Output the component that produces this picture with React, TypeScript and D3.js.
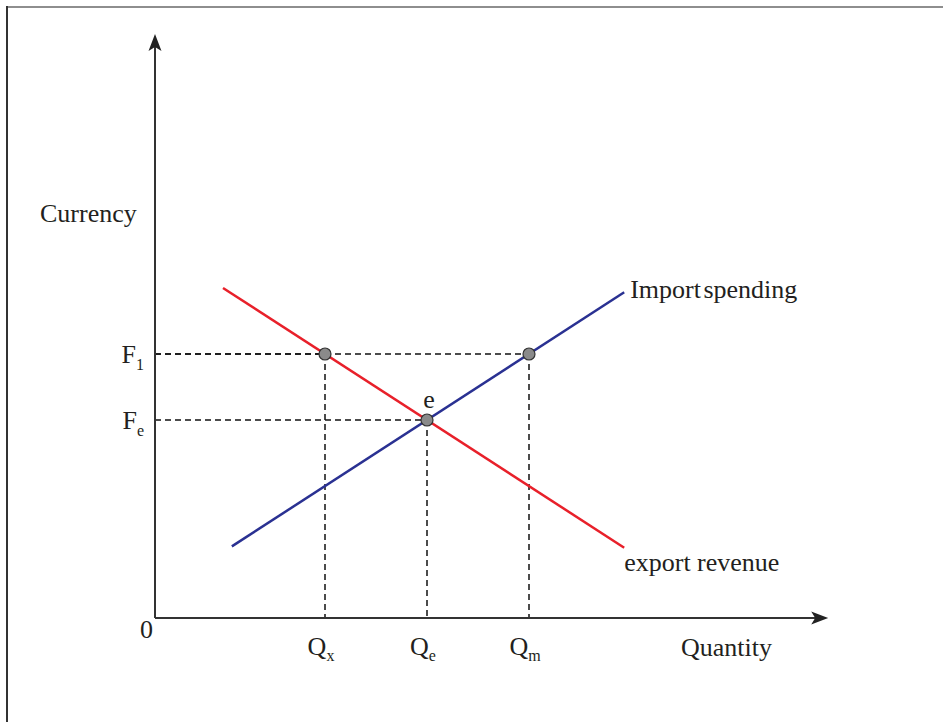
import * as d3 from "d3";

// axis extents (data units)
const xMax = 19.8;
const yMax = 17.7;

// curves: [quantity, currency]
const exportRevenue: [number, number][] = [
  [2, 10],
  [13.8, 2.13],
];
const importSpending: [number, number][] = [
  [2.26, 2.17],
  [13.8, 9.87],
];

// marked points
const pointNames = ["x", "e", "m"];
const pointQ = [5, 8, 11];
const pointF = [8, 6, 8];

// currency levels on the y axis
const fLevels = [8, 6];
const fSubs = ["1", "e"];

const W = 943;
const H = 722;
const FONT = "'Liberation Serif', 'Times New Roman', serif";

export default function App() {
  const x = d3.scaleLinear().domain([0, 1]).range([155, 189]);
  const y = d3.scaleLinear().domain([0, 1]).range([618, 585]);
  const line = d3
    .line<[number, number]>()
    .x((d) => x(d[0]))
    .y((d) => y(d[1]));

  const x0 = x(0);
  const y0 = y(0);
  const xTip = x(xMax);
  const yTip = y(yMax);

  const redEnd = exportRevenue[exportRevenue.length - 1];
  const blueEnd = importSpending[importSpending.length - 1];
  const eIdx = 1;

  return (
    <svg
      width={W}
      height={H}
      style={{ position: "absolute", left: 0, top: 0, background: "#fff" }}
      fontFamily={FONT}
    >
      {/* frame */}
      <line x1={6} y1={7} x2={W} y2={7} stroke="#8e8e8e" strokeWidth={2.2} />
      <line x1={7} y1={6} x2={7} y2={H} stroke="#333" strokeWidth={2} />

      {/* dashed guides */}
      {pointQ.map((q, i) => (
        <g key={"g" + i}>
          <line
            x1={x0}
            x2={x(q)}
            y1={y(pointF[i])}
            y2={y(pointF[i])}
            stroke="#111"
            strokeWidth={1.5}
            strokeDasharray="6 4"
          />
          <line
            x1={x(q)}
            x2={x(q)}
            y1={y(pointF[i])}
            y2={y0}
            stroke="#111"
            strokeWidth={1.5}
            strokeDasharray="6 4"
          />
        </g>
      ))}

      {/* axes */}
      <line x1={x0} y1={y0} x2={xTip - 12} y2={y0} stroke="#333" strokeWidth={2} />
      <line x1={x0} y1={y0} x2={x0} y2={yTip + 12} stroke="#333" strokeWidth={2} />
      <path
        d={`M${xTip},${y0} L${xTip - 17},${y0 - 6.5} L${xTip - 13},${y0} L${xTip - 17},${y0 + 6.5} Z`}
        fill="#222"
      />
      <path
        d={`M${x0},${yTip} L${x0 - 6.5},${yTip + 17} L${x0},${yTip + 13} L${x0 + 6.5},${yTip + 17} Z`}
        fill="#222"
      />

      {/* curves */}
      <path d={line(exportRevenue) ?? ""} fill="none" stroke="#e8202a" strokeWidth={2.5} />
      <path d={line(importSpending) ?? ""} fill="none" stroke="#2a3192" strokeWidth={2.5} />

      {/* points */}
      {pointQ.map((q, i) => (
        <circle
          key={"p" + i}
          cx={x(q)}
          cy={y(pointF[i])}
          r={6}
          fill="#8a8a8a"
          stroke="#333"
          strokeWidth={1.2}
        />
      ))}

      {/* texts */}
      <g fontSize={26} fill="#231f20">
        <text x={40} y={222}>Currency</text>
        <text x={x0 - 2} y={y0 + 20} textAnchor="end">0</text>
        <text x={681} y={656}>Quantity</text>
        <text x={x(blueEnd[0]) + 6} y={y(blueEnd[1]) + 6} wordSpacing={-4}>
          Import spending
        </text>
        <text x={x(redEnd[0])} y={y(redEnd[1]) + 23}>export revenue</text>
        <text x={x(pointQ[eIdx]) + 2} y={y(pointF[eIdx]) - 12} textAnchor="middle">e</text>
        {fLevels.map((f, i) => (
          <text key={"f" + i} x={x0 - 11} y={y(f) + 9} textAnchor="end">
            F
            <tspan fontSize={16} dy={7}>{fSubs[i]}</tspan>
          </text>
        ))}
        {pointQ.map((q, i) => (
          <text key={"q" + i} x={x(q) - 4} y={y0 + 37} textAnchor="middle">
            Q
            <tspan fontSize={16} dy={6}>{pointNames[i]}</tspan>
          </text>
        ))}
      </g>
    </svg>
  );
}
